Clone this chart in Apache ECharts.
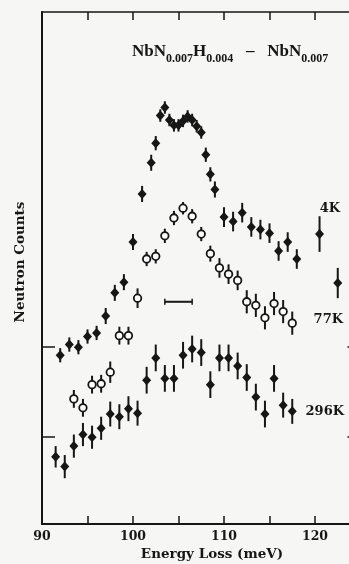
<!DOCTYPE html>
<html><head><meta charset="utf-8">
<script src="https://cdn.jsdelivr.net/npm/echarts@6/dist/echarts.min.js"></script>
<style>html,body{margin:0;padding:0;background:#f6f6f4;overflow:hidden;width:349px;height:564px}#c{width:362px;height:564px}</style>
</head><body><div id="c"></div>
<script>
// Energy loss (meV) and neutron counts (arbitrary units)
const x4K = [92,93,94,95,96,97,98,99,100,101,102,102.5,103,103.5,104,104.5,105,105.5,106,106.5,107,107.5,108,108.5,109,110,111,112,113,114,115,116,117,118,120.5,122.5];
const y4K = [191,203,200,212,216,235,261,273,318,372,407,429,460,469,455,449,449,454,459,455,448,441,416,394,377,346,341,351,335,332,328,308,318,299,327,272];
const e4K = [8,8,8,8,8,9,9,9,9,9,9,8,7,7,7,7,7,7,7,7,7,7,8,8,9,11,11,11,11,11,11,11,11,11,20,17];

const x77K = [93.5,94.5,95.5,96.5,97.5,98.5,99.5,100.5,101.5,102.5,103.5,104.5,105.5,106.5,107.5,108.5,109.5,110.5,111.5,112.5,113.5,114.5,115.5,116.5,117.5];
const y77K = [142,132,158,159,172,213,213,255,299,302,325,345,356,347,327,305,289,282,275,251,247,233,249,240,227];
const e77K = [10,10,10,10,12,10,10,11,8,8,8,8,7,8,8,9,11,11,11,13,13,13,13,13,13];

const x296K = [91.5,92.5,93.5,94.5,95.5,96.5,97.5,98.5,99.5,100.5,101.5,102.5,103.5,104.5,105.5,106.5,107.5,108.5,109.5,110.5,111.5,112.5,113.5,114.5,115.5,116.5,117.5];
const y296K = [77,66,89,102,99,109,125,122,131,126,163,188,165,165,191,198,194,158,188,188,179,166,144,125,165,135,128];
const e296K = [12,13,13,13,13,13,14,14,14,14,15,15,15,15,15,15,15,15,15,15,15,15,15,15,15,14,14];

const resolution = [103.5, 106.5, 251]; // instrumental resolution bar: from, to, level
const xTickValues = [90,95,100,105,110,115,120,125];
const xLabelValues = [90,100,110,120];
const yTickValues = [100,200];
const seriesLabels = ['4K','77K','296K'];

const INK = '#161616';
const SERIF = '"Liberation Serif","DejaVu Serif",serif';
const WSERIF = '"DejaVu Serif","Liberation Serif",serif';

function errBars(xs, ys, es) {
  return {
    type: 'custom', z: 2,
    data: xs.map((x,i)=>[x, ys[i]-es[i], ys[i]+es[i]]),
    encode: {x: 0, y: [1,2]},
    renderItem: function(params, api){
      const a = api.coord([api.value(0), api.value(1)]);
      const b = api.coord([api.value(0), api.value(2)]);
      return {type:'line', shape:{x1:a[0],y1:a[1],x2:b[0],y2:b[1]}, style:{stroke:INK, lineWidth:2}};
    }
  };
}
function pts(xs, ys, open) {
  return {
    type: 'scatter', z: 3,
    data: xs.map((x,i)=>[x, ys[i]]),
    symbol: open ? 'circle' : 'diamond',
    symbolSize: open ? 7.5 : [9,10],
    itemStyle: open ? {color:'#ffffff', borderColor:INK, borderWidth:1.8, opacity:1} : {color:INK, opacity:1},
    emphasis: {disabled:true}
  };
}

const chart = echarts.init(document.getElementById('c'), null, {renderer:'canvas'});
chart.setOption({
  backgroundColor: '#f6f6f4',
  animation: false,
  grid: {left: 42, top: 12, bottom: 40, right: 1.5},
  xAxis: [{
    type:'value', min:90, max:125, interval:5, position:'bottom',
    axisLine:{show:true, lineStyle:{color:INK, width:2}},
    axisTick:{show:true, inside:true, length:8, customValues:xTickValues, lineStyle:{color:INK, width:1.5}},
    axisLabel:{show:true, margin:6, customValues:xLabelValues, color:INK, fontFamily:WSERIF, fontWeight:'bold', fontSize:12.5},
    splitLine:{show:false}
  },{
    type:'value', min:90, max:125, interval:5, position:'top',
    axisLine:{show:true, lineStyle:{color:INK, width:1.5}},
    axisTick:{show:true, inside:true, length:8, customValues:xTickValues, lineStyle:{color:INK, width:1.5}},
    axisLabel:{show:false}, splitLine:{show:false}
  }],
  yAxis: [{
    type:'value', min:1.6, max:576.2, position:'left',
    axisLine:{show:true, lineStyle:{color:INK, width:2}},
    axisTick:{show:true, inside:true, length:13, customValues:yTickValues, lineStyle:{color:INK, width:1.5}},
    axisLabel:{show:false}, splitLine:{show:false}
  },{
    type:'value', min:1.6, max:576.2, position:'right',
    axisLine:{show:true, lineStyle:{color:INK, width:2}},
    axisTick:{show:true, inside:true, length:13, customValues:yTickValues, lineStyle:{color:INK, width:1.5}},
    axisLabel:{show:false}, splitLine:{show:false}
  }],
  series: [
    errBars(x4K, y4K, e4K), errBars(x77K, y77K, e77K), errBars(x296K, y296K, e296K),
    pts(x4K, y4K, false), pts(x296K, y296K, false), pts(x77K, y77K, true),
    {
      type:'custom', z:3, data:[resolution], encode:{x:[0,1], y:2},
      renderItem: function(params, api){
        const a = api.coord([api.value(0), api.value(2)]);
        const b = api.coord([api.value(1), api.value(2)]);
        return {type:'group', children:[
          {type:'line', shape:{x1:a[0],y1:a[1],x2:b[0],y2:b[1]}, style:{stroke:INK, lineWidth:2}},
          {type:'line', shape:{x1:a[0],y1:a[1]-3,x2:a[0],y2:a[1]+3}, style:{stroke:INK, lineWidth:1.5}},
          {type:'line', shape:{x1:b[0],y1:b[1]-3,x2:b[0],y2:b[1]+3}, style:{stroke:INK, lineWidth:1.5}}
        ]};
      }
    }
  ],
  graphic: [
    {type:'text', left:132, top:43, style:{
      text:'{a|NbN}{s|0.007}{a|H}{s|0.004}{a|   –   NbN}{s|0.007}',
      rich:{
        a:{fontFamily:SERIF, fontWeight:'bold', fontSize:17, fill:INK, verticalAlign:'bottom'},
        s:{fontFamily:SERIF, fontWeight:'bold', fontSize:12, fill:INK, verticalAlign:'bottom', padding:[0,0,-5,0]}
      }}},
    {type:'text', x:340, y:209, style:{text:seriesLabels[0], align:'right', verticalAlign:'middle', font:'bold 13px '+WSERIF, fill:INK}},
    {type:'text', x:343, y:320, style:{text:seriesLabels[1], align:'right', verticalAlign:'middle', font:'bold 13px '+WSERIF, fill:INK}},
    {type:'text', x:344, y:412, style:{text:seriesLabels[2], align:'right', verticalAlign:'middle', font:'bold 13px '+WSERIF, fill:INK}},
    {type:'text', x:212, y:554, style:{text:'Energy Loss (meV)', align:'center', verticalAlign:'middle', font:'bold 13.5px '+WSERIF, fill:INK}},
    {type:'text', x:20, y:262, rotation:Math.PI/2, style:{text:'Neutron Counts', align:'center', verticalAlign:'middle', font:'bold 13.5px '+WSERIF, fill:INK}}
  ]
});
</script></body></html>
